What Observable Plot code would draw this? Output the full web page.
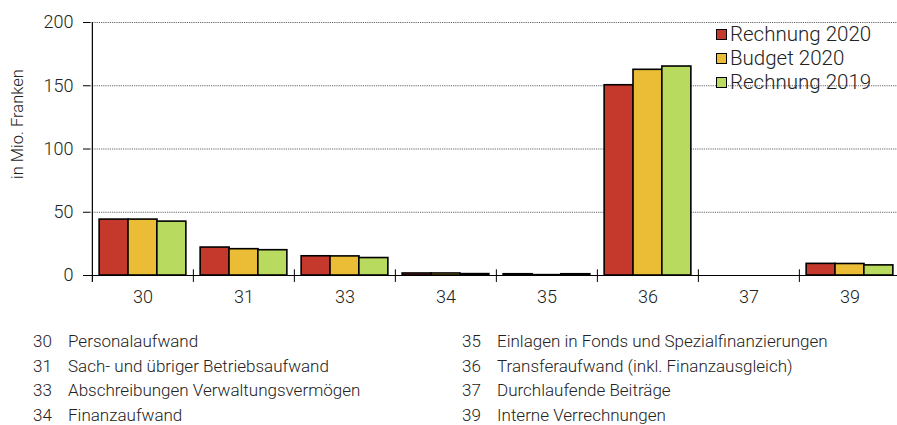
<!DOCTYPE html>
<html>
<head>
<meta charset="utf-8">
<script src="https://cdn.jsdelivr.net/npm/d3@7"></script>
<script src="https://cdn.jsdelivr.net/npm/@observablehq/plot@0.6"></script>
<style>
  body { margin: 0; background: #fff; font-family: Roboto, "Noto Sans", sans-serif; font-weight: 300; color: #222; }
  #wrap { position: relative; width: 897px; height: 425px; overflow: hidden; }
  #chart { position: absolute; left: 0; top: 0; }
  .legend { position: absolute; left: 716px; top: 22px; font-size: 20.5px; line-height: 24px; color: #222; }
  .legend .row { display: flex; align-items: center; white-space: nowrap; }
  .legend .sw { width: 9px; height: 9px; border: 1.7px solid #000; margin-right: 3px; }
  .notes { position: absolute; top: 329px; font-size: 17px; line-height: 24.6px; }
  .notes .row { display: flex; white-space: nowrap; }
  .notes .num { width: 35px; }
</style>
</head>
<body>
<div id="wrap">
  <div id="chart"></div>
  <div class="legend" id="legend"></div>
  <div class="notes" id="notesL" style="left:33px"></div>
  <div class="notes" id="notesR" style="left:462px"></div>
</div>
<script>
// ---- data ----
const categories = ["30", "31", "33", "34", "35", "36", "37", "39"];
const descriptions = [
  "Personalaufwand",
  "Sach- und übriger Betriebsaufwand",
  "Abschreibungen Verwaltungsvermögen",
  "Finanzaufwand",
  "Einlagen in Fonds und Spezialfinanzierungen",
  "Transferaufwand (inkl. Finanzausgleich)",
  "Durchlaufende Beiträge",
  "Interne Verrechnungen"
];
const seriesNames = ["Rechnung 2020", "Budget 2020", "Rechnung 2019"];
const rechnung2020 = [44.2, 22.1, 15.2, 1.6, 1.0, 150.4, 0, 9.2];
const budget2020   = [44.2, 20.8, 15.1, 1.6, 0.3, 162.6, 0, 9.1];
const rechnung2019 = [42.6, 20.0, 13.8, 1.1, 1.0, 165.2, 0, 8.0];
const yTicks = [0, 50, 100, 150, 200];
const colors = ["#C4392B", "#EBBD37", "#B8DA5E"];

// ---- layout ----
const W = 897, H = 310, mL = 90, mR = 0, mT = 22, mB = 35;
const xStart = 90.4, step = 101.27;
const xRange = [xStart, xStart + step * categories.length];
const padInner = 0.715;
const bw = step * (1 - padInner);

const seriesValues = [rechnung2020, budget2020, rechnung2019];
const barMarks = seriesValues.map((vals, i) =>
  Plot.barY(
    categories.map((c, j) => ({cat: c, value: vals[j]})).filter(d => d.value > 0),
    {x: "cat", y: "value", fill: colors[i], stroke: "#000", strokeWidth: 1.6, dx: (i - 1) * bw}
  )
);

const chart = Plot.plot({
  width: W,
  height: H,
  marginLeft: mL,
  marginRight: mR,
  marginTop: mT,
  marginBottom: mB,
  style: {fontFamily: "Roboto, 'Noto Sans', sans-serif", fontWeight: 300, color: "#222", background: "#fff", overflow: "hidden"},
  x: {domain: categories, range: xRange, paddingInner: padInner, paddingOuter: padInner / 2, axis: null},
  y: {domain: [0, 200], axis: null},
  marks: [
    Plot.gridY(yTicks.filter(t => t > 0), {stroke: "#666", strokeOpacity: 1, strokeDasharray: "1.2,1"}),
    ...barMarks,
    Plot.ruleY([0], {stroke: "#000", strokeWidth: 1.2}),
    Plot.ruleX([categories[0]], {x: d => d, dx: -step / 2, y1: -5.5, y2: 200, stroke: "#000", strokeWidth: 1.2}),
    Plot.ruleX(categories.slice(1), {x: d => d, dx: -step / 2, y1: -5.5, y2: 4.5, stroke: "#000", strokeWidth: 1}),
    Plot.axisY({ticks: yTicks, tickSize: 7, tickPadding: 10, fontSize: 18, label: null, stroke: "#000"}),
    Plot.axisX({tickSize: 0, tickPadding: 15, fontSize: 18, label: null}),
    Plot.text(["in Mio. Franken"], {frameAnchor: "left", rotate: -90, dx: -73, dy: 30, fontSize: 16.5, fill: "#222"})
  ]
});
document.getElementById("chart").appendChild(chart);

// legend
const leg = document.getElementById("legend");
seriesNames.forEach((n, i) => {
  const r = document.createElement("div");
  r.className = "row";
  r.innerHTML = `<span class="sw" style="background:${colors[i]}"></span><span>${n}</span>`;
  leg.appendChild(r);
});

// category notes
const L = document.getElementById("notesL"), R = document.getElementById("notesR");
categories.forEach((c, i) => {
  const r = document.createElement("div");
  r.className = "row";
  r.innerHTML = `<span class="num">${c}</span><span>${descriptions[i]}</span>`;
  (i < 4 ? L : R).appendChild(r);
});
</script>
</body>
</html>
